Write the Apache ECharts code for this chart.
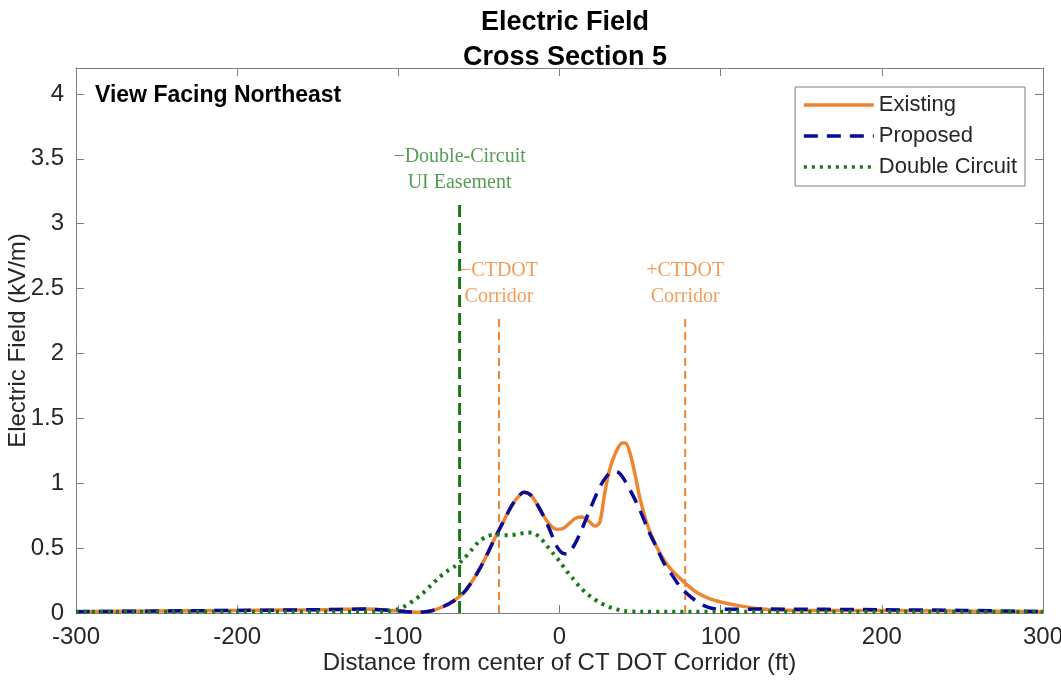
<!DOCTYPE html>
<html>
<head>
    <meta charset="utf-8">
    <title>Electric Field - Cross Section 5</title>
    <script src="https://cdn.jsdelivr.net/npm/echarts@6/dist/echarts.min.js"></script>
    <style type="text/css">
    html, body { margin: 0; padding: 0; background: #fff; }
    #main { width: 1061px; height: 688px; }
    </style>
</head>
<body>
<div id="main"></div>
<script type="text/javascript">
// distance from corridor center (ft) and field (kV/m)
var existingX = [-300, -250, -200, -150, -120, -105, -95, -88, -80, -72, -66, -60, -55, -50, -45, -40, -35, -30, -26, -22, -18, -14, -10, -6, -2, 2, 6, 10, 14, 18, 22, 25, 28, 31, 35, 39, 41, 44, 47, 50, 54, 58, 62, 67, 72, 78, 85, 93, 100, 112, 125, 140, 170, 200, 250, 300];
var existingY = [0.01, 0.015, 0.02, 0.025, 0.03, 0.02, 0.01, 0.005, 0.015, 0.05, 0.09, 0.15, 0.23, 0.33, 0.45, 0.58, 0.70, 0.82, 0.89, 0.93, 0.91, 0.84, 0.75, 0.68, 0.645, 0.65, 0.69, 0.73, 0.74, 0.71, 0.67, 0.70, 0.92, 1.10, 1.24, 1.31, 1.31, 1.22, 1.06, 0.88, 0.70, 0.57, 0.47, 0.37, 0.30, 0.23, 0.16, 0.11, 0.085, 0.055, 0.03, 0.022, 0.02, 0.02, 0.015, 0.01];

var proposedX = [-300, -250, -200, -150, -120, -105, -95, -88, -80, -72, -66, -60, -55, -50, -45, -40, -35, -30, -26, -22, -18, -14, -10, -6, -2, 2, 5, 9, 13, 17, 21, 25, 29, 33, 37, 41, 45, 50, 55, 60, 65, 70, 75, 80, 85, 90, 95, 100, 130, 200, 250, 300];
var proposedY = [0.01, 0.015, 0.02, 0.025, 0.03, 0.02, 0.01, 0.005, 0.015, 0.05, 0.09, 0.15, 0.23, 0.33, 0.45, 0.58, 0.70, 0.82, 0.89, 0.93, 0.91, 0.84, 0.75, 0.64, 0.52, 0.46, 0.455, 0.52, 0.62, 0.74, 0.86, 0.97, 1.05, 1.09, 1.08, 1.01, 0.92, 0.79, 0.64, 0.51, 0.38, 0.29, 0.20, 0.14, 0.09, 0.055, 0.035, 0.028, 0.03, 0.025, 0.02, 0.01];

var doubleX = [-300, -200, -110, -100, -95, -90, -85, -80, -75, -70, -65, -60, -55, -50, -45, -40, -35, -30, -25, -20, -16, -12, -8, -4, 0, 4, 8, 12, 16, 20, 25, 30, 35, 40, 50, 100, 200, 300];
var doubleY = [0.01, 0.01, 0.01, 0.03, 0.06, 0.10, 0.15, 0.21, 0.27, 0.32, 0.36, 0.41, 0.48, 0.55, 0.59, 0.605, 0.60, 0.60, 0.61, 0.62, 0.615, 0.58, 0.52, 0.46, 0.40, 0.33, 0.27, 0.21, 0.16, 0.12, 0.08, 0.05, 0.03, 0.015, 0.01, 0.01, 0.01, 0.01];

// boundary markers
var easementX = -62, easementTop = 3.15;
var corridorX = [-37.5, 78], corridorTop = 2.27;
var corridorLabels = ['\u2212CTDOT\nCorridor', '+CTDOT\nCorridor'];

var yMax = 4.2;

function pairs(xs, ys) {
    return xs.map(function (x, i) { return [x, ys[i]]; });
}

var orange = '#ee8530', blue = '#0a0a9a', green = '#1a7a1a';
var sans = 'Liberation Sans', serif = 'Liberation Serif';

var myChart = echarts.init(document.getElementById('main'));

var series = [{
    name: 'Existing', type: 'line',
    data: pairs(existingX, existingY), smooth: 0.3, symbol: 'none',
    lineStyle: { color: orange, width: 3.5 }, itemStyle: { color: orange }, z: 3
}, {
    name: 'Proposed', type: 'line',
    data: pairs(proposedX, proposedY), smooth: 0.3, symbol: 'none',
    lineStyle: { color: blue, width: 3.5, type: [14, 9] }, itemStyle: { color: blue }, z: 4
}, {
    name: 'Double Circuit', type: 'line',
    data: pairs(doubleX, doubleY), smooth: 0.3, symbol: 'none',
    lineStyle: { color: green, width: 4, type: [3, 5] }, itemStyle: { color: green }, z: 5
}, {
    name: 'easement', type: 'line', symbol: 'none', silent: true,
    data: [[easementX, 0], [easementX, easementTop]],
    lineStyle: { color: green, width: 3, type: [12, 6] }, z: 6
}, {
    name: 'easementLabel', type: 'scatter', symbolSize: 1, silent: true,
    itemStyle: { color: 'rgba(0,0,0,0)' },
    data: [[easementX, easementTop]],
    label: {
        show: true, position: 'top', distance: 8, align: 'center',
        formatter: '\u2212Double-Circuit\nUI Easement',
        fontFamily: serif, fontSize: 20, lineHeight: 26, color: '#2a852a'
    }
}];

corridorX.forEach(function (cx, i) {
    series.push({
        name: 'corridor' + i, type: 'line', symbol: 'none', silent: true,
        data: [[cx, 0], [cx, corridorTop]],
        lineStyle: { color: orange, width: 2, type: [8, 5] }, z: 2
    });
    series.push({
        name: 'corridorLabel' + i, type: 'scatter', symbolSize: 1, silent: true,
        itemStyle: { color: 'rgba(0,0,0,0)' },
        data: [[cx, corridorTop]],
        label: {
            show: true, position: 'top', distance: 8, align: 'center',
            formatter: corridorLabels[i],
            fontFamily: serif, fontSize: 20, lineHeight: 26, color: orange
        }
    });
});

var axisGray = '#7f7f7f';

var option = {
    backgroundColor: '#fff',
    animation: false,
    title: {
        text: 'Electric Field\nCross Section 5',
        left: 560, top: 0, textAlign: 'center',
        textStyle: { fontFamily: sans, fontSize: 27, fontWeight: 'bold', lineHeight: 35, color: '#000' }
    },
    graphic: [{
        type: 'text', left: 95, top: 84,
        style: { text: 'View Facing Northeast', font: 'bold 23px "Liberation Sans"', fill: '#000' }
    }],
    legend: {
        data: ['Existing', 'Proposed', 'Double Circuit'],
        orient: 'vertical', right: 36, top: 87,
        padding: [7, 8, 8, 7], itemGap: 9, itemWidth: 70, itemHeight: 22,
        itemStyle: { opacity: 0 },
        lineStyle: { width: 3.5 },
        borderColor: axisGray, borderWidth: 1, backgroundColor: '#fff',
        textStyle: { fontFamily: sans, fontSize: 22, color: '#262626' }
    },
    grid: { left: 76, right: 18, top: 68, bottom: 75, outerBoundsMode: 'none', containLabel: false },
    xAxis: [{
        type: 'value', min: -300, max: 300, interval: 100,
        name: 'Distance from center of CT DOT Corridor (ft)',
        nameLocation: 'middle', nameGap: 38, nameMoveOverlap: false,
        nameTextStyle: { fontFamily: sans, fontSize: 24, color: '#262626' },
        axisLine: { onZero: false, lineStyle: { color: axisGray } },
        axisTick: { inside: true, length: 8, lineStyle: { color: axisGray } },
        axisLabel: { fontFamily: sans, fontSize: 24, color: '#262626', margin: 12 },
        splitLine: { show: false }
    }, {
        type: 'value', min: -300, max: 300, interval: 100, position: 'top',
        axisLine: { onZero: false, lineStyle: { color: axisGray } },
        axisTick: { inside: true, length: 8, lineStyle: { color: axisGray } },
        axisLabel: { show: false }, splitLine: { show: false }
    }],
    yAxis: [{
        type: 'value', min: 0, max: yMax, interval: 0.5,
        name: 'Electric Field (kV/m)', nameLocation: 'middle', nameGap: 46, nameMoveOverlap: false,
        nameTextStyle: { fontFamily: sans, fontSize: 24, color: '#262626' },
        axisLine: { show: true, onZero: false, lineStyle: { color: axisGray } },
        axisTick: { show: true, inside: true, length: 8, lineStyle: { color: axisGray } },
        axisLabel: {
            fontFamily: sans, fontSize: 24, color: '#262626', margin: 12,
            formatter: function (v) { return Math.abs(v * 2 - Math.round(v * 2)) < 1e-6 ? String(v) : ''; }
        },
        splitLine: { show: false }
    }, {
        type: 'value', min: 0, max: yMax, interval: 0.5, position: 'right',
        axisLine: { show: true, onZero: false, lineStyle: { color: axisGray } },
        axisTick: { show: true, inside: true, length: 8, lineStyle: { color: axisGray } },
        axisLabel: { show: false }, splitLine: { show: false }
    }],
    series: series
};

myChart.setOption(option);
</script>
</body>
</html>
